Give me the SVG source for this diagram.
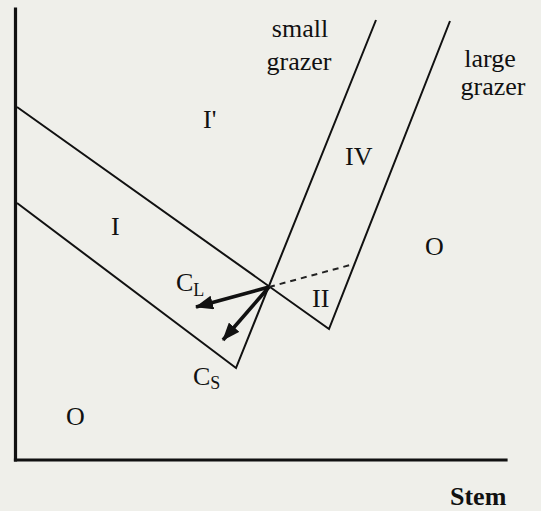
<svg xmlns="http://www.w3.org/2000/svg" width="541" height="511" viewBox="0 0 541 511">
  <defs>
    <style>
      .axis { stroke: #111; stroke-width: 3.2; fill: none; stroke-linecap: square; }
      .bound { stroke: #111; stroke-width: 2; fill: none; stroke-linejoin: miter; }
      .dash { stroke: #222; stroke-width: 2; fill: none; stroke-dasharray: 6 5; }
      .arrow { stroke: #111; stroke-width: 3.6; fill: none; }
      .lbl { font-family: "Liberation Serif", "Times New Roman", serif; font-size: 26px; fill: #111; }
      .sub { font-size: 18px; }
      .bold { font-weight: bold; }
    </style>
    <marker id="ah" viewBox="0 0 18 14" markerWidth="18" markerHeight="14" refX="17" refY="7" orient="auto" markerUnits="userSpaceOnUse">
      <path d="M0,0 L18,7 L0,14 z" fill="#111"/>
    </marker>
  </defs>
  <rect x="0" y="0" width="541" height="511" fill="#efefea"/>

  <g id="axes">
    <line class="axis" x1="15.5" y1="9" x2="15.5" y2="460"/>
    <line class="axis" x1="15.5" y1="460" x2="506" y2="460"/>
  </g>

  <g id="boundaries">
    <polyline class="bound" points="17,107 329,329 450,21"/>
    <polyline class="bound" points="17,203 236,368 376,20"/>
  </g>

  <g id="connectors">
    <line class="dash" x1="269" y1="287" x2="354" y2="264"/>
    <line class="arrow" x1="269" y1="287" x2="196" y2="307" marker-end="url(#ah)"/>
    <line class="arrow" x1="269" y1="287" x2="223" y2="340" marker-end="url(#ah)"/>
  </g>

  <g id="labels">
    <text class="lbl" x="300" y="37" text-anchor="middle">small</text>
    <text class="lbl" x="299" y="70" text-anchor="middle">grazer</text>
    <text class="lbl" x="490" y="67" text-anchor="middle">large</text>
    <text class="lbl" x="493" y="95" text-anchor="middle">grazer</text>
    <text class="lbl" x="203" y="128">I'</text>
    <text class="lbl" x="345" y="165">IV</text>
    <text class="lbl" x="111" y="235">I</text>
    <text class="lbl" x="425" y="255">O</text>
    <text class="lbl" x="312" y="307">II</text>
    <text class="lbl" x="176" y="291">C<tspan class="sub" dy="5">L</tspan></text>
    <text class="lbl" x="193" y="385">C<tspan class="sub" dy="4">S</tspan></text>
    <text class="lbl" x="66" y="425">O</text>
    <text class="lbl bold" x="450" y="505">Stem</text>
  </g>
</svg>
